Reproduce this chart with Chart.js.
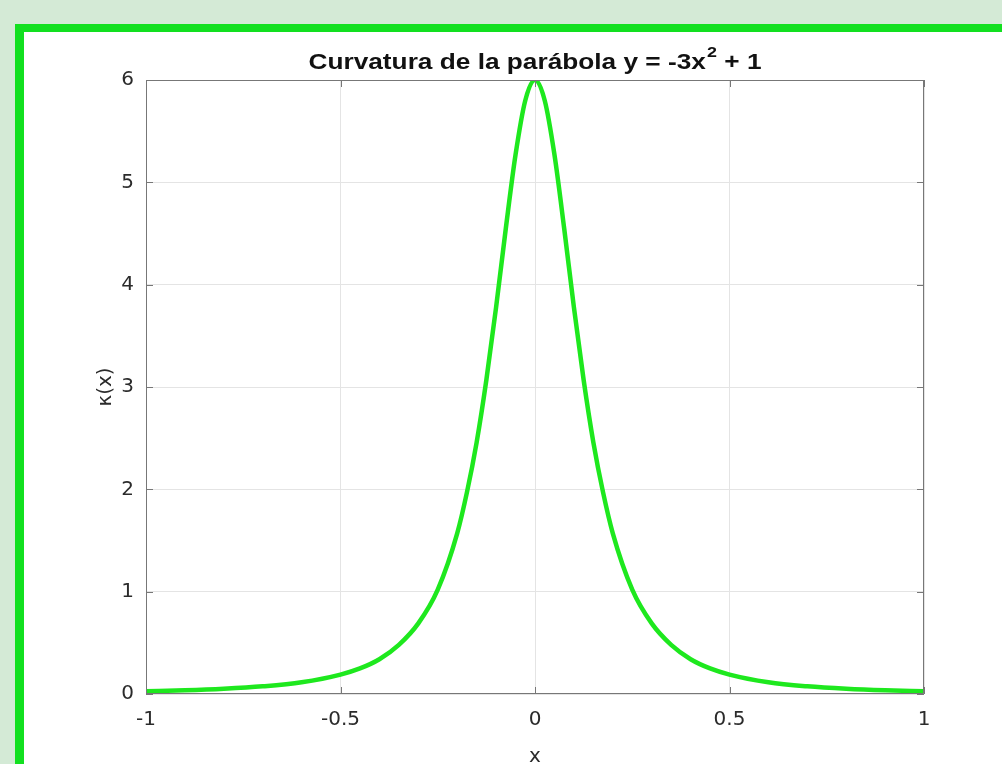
<!DOCTYPE html>
<html>
<head>
<meta charset="utf-8">
<script src="https://cdn.jsdelivr.net/npm/chart.js@4"></script>
<style>
  html, body { margin: 0; padding: 0; }
  body { width: 1002px; height: 764px; background: #d4ead6; overflow: hidden; position: relative; }
  #frame {
    position: absolute; left: 15px; top: 24px; right: 0; bottom: 0;
    border-left: 9px solid #12e020; border-top: 8px solid #12e020;
    background: #fff;
  }
  #chart { position: absolute; left: 0; top: 0; }
</style>
</head>
<body>
<div id="frame"><canvas id="chart" width="978" height="732"></canvas></div>
<script>
// values
const xValues = [-1, -0.9, -0.8, -0.7, -0.6, -0.5, -0.45, -0.4, -0.35, -0.3, -0.25, -0.2, -0.175, -0.15, -0.125, -0.1, -0.075, -0.05, -0.025, 0,
                 0.025, 0.05, 0.075, 0.1, 0.125, 0.15, 0.175, 0.2, 0.25, 0.3, 0.35, 0.4, 0.45, 0.5, 0.6, 0.7, 0.8, 0.9, 1];
const kappa = [0.027, 0.036, 0.051, 0.075, 0.115, 0.19, 0.25, 0.34, 0.48, 0.69, 1.02, 1.57, 1.97, 2.46, 3.07, 3.78, 4.55, 5.27, 5.80, 6.00,
               5.80, 5.27, 4.55, 3.78, 3.07, 2.46, 1.97, 1.57, 1.02, 0.69, 0.48, 0.34, 0.25, 0.19, 0.115, 0.075, 0.051, 0.036, 0.027];
const xTicks = [-1, -0.5, 0, 0.5, 1];
const xTickLabels = ['-1', '-0.5', '0', '0.5', '1'];
const yTicks = [0, 1, 2, 3, 4, 5, 6];

const FONT = '"DejaVu Sans", sans-serif';
const TITLE_FONT = '"Liberation Sans", Arial, sans-serif';
const TEXT = '#2b2b2b';
const AXIS = '#777777';

// box, inward ticks, title and axis labels
const decor = {
  id: 'decor',
  afterDraw(chart) {
    const ctx = chart.ctx;
    const a = chart.chartArea;
    const sx = chart.scales.x, sy = chart.scales.y;
    ctx.save();
    ctx.strokeStyle = AXIS;
    ctx.lineWidth = 1;
    ctx.beginPath();
    ctx.rect(a.left + 0.5, a.top + 0.5, a.right - a.left - 1, a.bottom - a.top - 1);
    const tl = 7;
    xTicks.forEach(v => {
      const px = Math.round(sx.getPixelForValue(v)) + 0.5;
      ctx.moveTo(px, a.bottom); ctx.lineTo(px, a.bottom - tl);
      ctx.moveTo(px, a.top); ctx.lineTo(px, a.top + tl);
    });
    yTicks.forEach(v => {
      const py = Math.round(sy.getPixelForValue(v)) + 0.5;
      ctx.moveTo(a.left, py); ctx.lineTo(a.left + tl, py);
      ctx.moveTo(a.right, py); ctx.lineTo(a.right - tl, py);
    });
    ctx.stroke();

    // title with superscript, stretched a little like the original render
    const cx = (a.left + a.right) / 2;
    const main = 'Curvatura de la parábola y = -3x';
    const tail = ' + 1';
    ctx.fillStyle = '#111';
    ctx.textBaseline = 'alphabetic';
    ctx.textAlign = 'left';
    ctx.font = 'bold 22px ' + TITLE_FONT;
    const w1 = ctx.measureText(main).width;
    const w3 = ctx.measureText(tail).width;
    ctx.font = 'bold 15px ' + TITLE_FONT;
    const w2 = ctx.measureText('2').width + 1;
    const total = w1 + w2 + w3;
    const stretch = 453 / total;
    ctx.save();
    ctx.translate(cx - 453 / 2, 37);
    ctx.scale(stretch, 1);
    ctx.font = 'bold 22px ' + TITLE_FONT;
    ctx.fillText(main, 0, 0);
    ctx.font = 'bold 15px ' + TITLE_FONT;
    ctx.fillText('2', w1 + 1, -12);
    ctx.font = 'bold 22px ' + TITLE_FONT;
    ctx.fillText(tail, w1 + w2, 0);
    ctx.restore();

    // axis labels
    ctx.fillStyle = TEXT;
    ctx.font = '20px ' + FONT;
    ctx.textAlign = 'center';
    ctx.textBaseline = 'middle';
    ctx.fillText('x', cx, 725);
    ctx.translate(82, (a.top + a.bottom) / 2);
    ctx.rotate(-Math.PI / 2);
    ctx.fillText('κ(x)', 0, 0);
    ctx.restore();
  }
};

new Chart(document.getElementById('chart'), {
  type: 'line',
  data: {
    datasets: [{
      data: xValues.map((x, i) => ({ x: x, y: kappa[i] })),
      borderColor: '#1ee81e',
      borderWidth: 4.5,
      pointRadius: 0,
      fill: false,
      cubicInterpolationMode: 'monotone'
    }]
  },
  options: {
    responsive: false,
    animation: false,
    layout: { padding: { left: 0, top: 48, right: 78, bottom: 0 } },
    plugins: { legend: { display: false }, tooltip: { enabled: false }, title: { display: false } },
    scales: {
      x: {
        type: 'linear', min: -1, max: 1,
        afterFit: s => { s.height = 70; },
        afterBuildTicks: s => { s.ticks = xTicks.map(v => ({ value: v })); },
        ticks: {
          padding: 14, color: TEXT, font: { family: FONT, size: 20 },
          maxRotation: 0, autoSkip: false,
          callback: v => xTickLabels[xTicks.indexOf(v)]
        },
        grid: { color: '#e4e4e4', drawTicks: false },
        border: { display: false }
      },
      y: {
        min: 0, max: 6,
        afterFit: s => { s.width = 122; },
        afterBuildTicks: s => { s.ticks = yTicks.map(v => ({ value: v })); },
        ticks: { padding: 12, color: TEXT, font: { family: FONT, size: 20 } },
        grid: { color: '#e4e4e4', drawTicks: false },
        border: { display: false }
      }
    }
  },
  plugins: [decor]
});
</script>
</body>
</html>
